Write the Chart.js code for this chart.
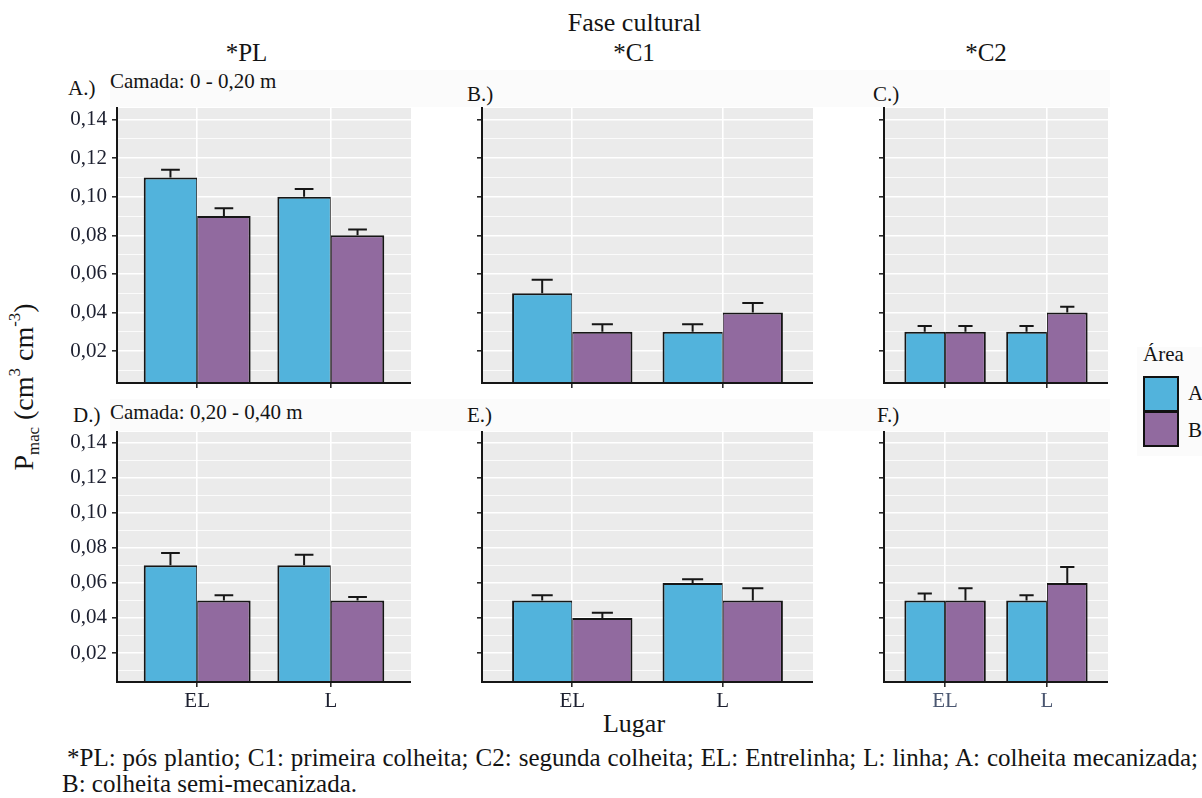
<!DOCTYPE html>
<html lang="pt">
<head>
<meta charset="utf-8">
<title>Pmac por fase cultural</title>
<script src="https://cdn.jsdelivr.net/npm/chart.js@4.4.1/dist/chart.umd.min.js"></script>
<style>
  html, body { margin: 0; padding: 0; }
  body {
    width: 1202px; height: 798px; position: relative; overflow: hidden;
    background: #ffffff; color: #141414;
    font-family: "Liberation Serif", "Times New Roman", serif;
  }
  .t { position: absolute; white-space: nowrap; line-height: 1; }
  canvas { position: absolute; }
  .strip { position: absolute; background: #fbfbfb; }
  .key { position: absolute; box-sizing: border-box; border: 2px solid #111; }
  #ylab sub { font-size: 0.6em; vertical-align: -0.35em; line-height: 0; }
  #ylab sup { font-size: 0.6em; vertical-align: 0.75em; line-height: 0; }
  #nota {
    position: absolute; left: 62px; top: 745px; width: 1136px;
    font-size: 25px; line-height: 26px; text-align: justify; text-indent: 5px;
  }
</style>
</head>
<body>

<div class="strip" style="left:110px;top:70px;width:1000px;height:37px;"></div>
<div class="strip" style="left:110px;top:399px;width:1000px;height:32px;"></div>
<div class="strip" style="left:1137px;top:347px;width:65px;height:109px;"></div>

<div class="t" style="left:634.5px;top:10px;font-size:26px;transform:translateX(-50%);">Fase cultural</div>
<div class="t" style="left:246.5px;top:40px;font-size:25px;transform:translateX(-50%);">*PL</div>
<div class="t" style="left:634px;top:40px;font-size:25px;transform:translateX(-50%);">*C1</div>
<div class="t" style="left:986px;top:40px;font-size:25px;transform:translateX(-50%);">*C2</div>

<div class="t" style="left:68px;top:78px;font-size:21px;">A.)</div>
<div class="t" style="left:110px;top:71px;font-size:21px;">Camada: 0 - 0,20 m</div>
<div class="t" style="left:467px;top:84px;font-size:21px;">B.)</div>
<div class="t" style="left:873px;top:84px;font-size:21px;">C.)</div>
<div class="t" style="left:73px;top:405px;font-size:21px;">D.)</div>
<div class="t" style="left:110px;top:402px;font-size:21px;">Camada: 0,20 - 0,40 m</div>
<div class="t" style="left:467px;top:405px;font-size:21px;">E.)</div>
<div class="t" style="left:877px;top:405px;font-size:21px;">F.)</div>

<div id="ylab" class="t" style="left:24px;top:387px;font-size:28px;transform:translate(-50%,-50%) rotate(-90deg);">P<sub>mac</sub> (cm<sup>3</sup> cm<sup>-3</sup>)</div>
<div class="t" style="left:634px;top:711px;font-size:26px;transform:translateX(-50%);">Lugar</div>

<div class="t" style="left:1143px;top:344px;font-size:21px;">Área</div>
<div id="legend"></div>

<div id="nota">*PL: pós plantio; C1: primeira colheita; C2: segunda colheita; EL: Entrelinha; L: linha; A: colheita mecanizada; B: colheita semi-mecanizada.</div>

<script>
// Categories and series
const lugares = ['EL', 'L'];
const areas = ['A', 'B'];

// Camada 0 - 0,20 m
const pl0020A = [0.110, 0.100];
const pl0020B = [0.090, 0.080];
const pl0020Aerr = [0.004, 0.004];
const pl0020Berr = [0.004, 0.003];

const c10020A = [0.050, 0.030];
const c10020B = [0.030, 0.040];
const c10020Aerr = [0.007, 0.004];
const c10020Berr = [0.004, 0.005];

const c20020A = [0.030, 0.030];
const c20020B = [0.030, 0.040];
const c20020Aerr = [0.003, 0.003];
const c20020Berr = [0.003, 0.003];

// Camada 0,20 - 0,40 m
const pl2040A = [0.070, 0.070];
const pl2040B = [0.050, 0.050];
const pl2040Aerr = [0.007, 0.006];
const pl2040Berr = [0.003, 0.002];

const c12040A = [0.050, 0.060];
const c12040B = [0.040, 0.050];
const c12040Aerr = [0.003, 0.002];
const c12040Berr = [0.003, 0.007];

const c22040A = [0.050, 0.050];
const c22040B = [0.050, 0.060];
const c22040Aerr = [0.004, 0.003];
const c22040Berr = [0.007, 0.009];

// Y axis ticks (labelled majors, unlabelled minors)
const yMajorTicks = [0.02, 0.04, 0.06, 0.08, 0.10, 0.12, 0.14];
const yMinorTicks = [0.01, 0.03, 0.05, 0.07, 0.09, 0.11, 0.13];
const yMin = 0.0035;
const yMax = 0.146;

// Styling
const COLOR_A = '#52B3DC';
const COLOR_B = '#916A9F';
const PANEL_BG = '#EBEBEB';
const INK = '#161616';
const TICK_TEXT = '#1d2030';
const FONT = '"Liberation Serif", "Times New Roman", serif';

// Grid of facets: column edges (axis line / right edge) and row edges
const colAxisX = [117, 482, 884];
const colRight = [411, 813, 1108];
const rowTop = [108, 432];
const rowBottom = [383, 682];
const yAxisW = [60, 12, 12];
const xAxisH = [8, 36];
const PAD_TOP = 14;

const panels = [
  { row: 0, col: 0, a: pl0020A, b: pl0020B, ea: pl0020Aerr, eb: pl0020Berr },
  { row: 0, col: 1, a: c10020A, b: c10020B, ea: c10020Aerr, eb: c10020Berr },
  { row: 0, col: 2, a: c20020A, b: c20020B, ea: c20020Aerr, eb: c20020Berr },
  { row: 1, col: 0, a: pl2040A, b: pl2040B, ea: pl2040Aerr, eb: pl2040Berr },
  { row: 1, col: 1, a: c12040A, b: c12040B, ea: c12040Aerr, eb: c12040Berr },
  { row: 1, col: 2, a: c22040A, b: c22040B, ea: c22040Aerr, eb: c22040Berr }
];

const isMajor = (v) => yMajorTicks.some((m) => Math.abs(m - v) < 1e-9);
const fmt = (v) => v.toFixed(2).replace('.', ',');

// Grey panel background behind the grid
const panelBg = {
  id: 'panelBg',
  beforeDraw(chart) {
    const { ctx, chartArea: a } = chart;
    ctx.save();
    ctx.fillStyle = PANEL_BG;
    ctx.fillRect(a.left, a.top, a.right - a.left, a.bottom - a.top);
    ctx.restore();
  }
};

// Upper error bars (mean + error) on every bar
const errorBars = {
  id: 'errorBars',
  afterDatasetsDraw(chart) {
    const { ctx } = chart;
    const yScale = chart.scales.y;
    ctx.save();
    ctx.strokeStyle = INK;
    ctx.lineWidth = 2;
    chart.data.datasets.forEach((ds, di) => {
      const meta = chart.getDatasetMeta(di);
      meta.data.forEach((bar, i) => {
        const top = yScale.getPixelForValue(ds.data[i].y + ds.errors[i]);
        const half = bar.width * 0.175;
        ctx.beginPath();
        ctx.moveTo(bar.x, bar.y);
        ctx.lineTo(bar.x, top);
        ctx.moveTo(bar.x - half, top);
        ctx.lineTo(bar.x + half, top);
        ctx.stroke();
      });
    });
    ctx.restore();
  }
};

function makePanel(p) {
  const left = colAxisX[p.col] - yAxisW[p.col];
  const width = colRight[p.col] - left;
  const top = rowTop[p.row] - PAD_TOP;
  const height = rowBottom[p.row] - rowTop[p.row] + PAD_TOP + xAxisH[p.row];

  const canvas = document.createElement('canvas');
  canvas.width = width;
  canvas.height = height;
  canvas.style.left = left + 'px';
  canvas.style.top = top + 'px';
  canvas.style.width = width + 'px';
  canvas.style.height = height + 'px';
  document.body.appendChild(canvas);

  const showY = p.col === 0;
  const showX = p.row === 1;
  const xColor = p.col === 2 ? '#4a5670' : TICK_TEXT;

  new Chart(canvas, {
    type: 'bar',
    data: {
      datasets: [
        {
          label: areas[0],
          data: p.a.map((v, i) => ({ x: i + 1, y: v })),
          errors: p.ea,
          backgroundColor: COLOR_A,
          borderColor: INK,
          borderWidth: { top: 2, left: 2, right: 1, bottom: 0 }
        },
        {
          label: areas[1],
          data: p.b.map((v, i) => ({ x: i + 1, y: v })),
          errors: p.eb,
          backgroundColor: COLOR_B,
          borderColor: INK,
          borderWidth: { top: 2, left: 1, right: 2, bottom: 0 }
        }
      ]
    },
    options: {
      responsive: false,
      animation: false,
      events: [],
      devicePixelRatio: 1,
      layout: { padding: { top: PAD_TOP, right: 0, bottom: 0, left: 0 } },
      plugins: { legend: { display: false }, tooltip: { enabled: false } },
      datasets: { bar: { categoryPercentage: 0.8, barPercentage: 1.0 } },
      scales: {
        x: {
          type: 'linear',
          min: 0.4,
          max: 2.6,
          offset: false,
          grid: {
            offset: false,
            color: '#ffffff',
            lineWidth: 1.6,
            drawTicks: true,
            tickLength: 5,
            tickColor: '#2a2a2a',
            tickWidth: 1.6
          },
          border: { display: true, color: INK, width: 2, z: 1 },
          ticks: {
            autoSkip: false,
            maxRotation: 0,
            padding: 2,
            color: xColor,
            font: { family: FONT, size: 21 },
            callback: (v) => (showX ? lugares[Math.round(v) - 1] : '')
          },
          afterBuildTicks: (s) => { s.ticks = lugares.map((_, i) => ({ value: i + 1 })); },
          afterFit: (s) => { s.height = xAxisH[p.row]; s.paddingLeft = 0; s.paddingRight = 0; }
        },
        y: {
          type: 'linear',
          min: yMin,
          max: yMax,
          grid: {
            color: '#ffffff',
            lineWidth: (c) => (c.tick && isMajor(c.tick.value) ? 1.6 : 0.8),
            drawTicks: true,
            tickLength: 5,
            tickColor: (c) => (c.tick && isMajor(c.tick.value) ? '#2a2a2a' : 'rgba(0,0,0,0)'),
            tickWidth: 1.6
          },
          border: { display: true, color: INK, width: 2, z: 1 },
          ticks: {
            autoSkip: false,
            padding: 5,
            color: TICK_TEXT,
            font: { family: FONT, size: 21 },
            callback: (v) => (showY && isMajor(v) ? fmt(v) : '')
          },
          afterBuildTicks: (s) => {
            s.ticks = yMinorTicks.concat(yMajorTicks)
              .sort((m, n) => m - n)
              .map((v) => ({ value: v }));
          },
          afterFit: (s) => { s.width = yAxisW[p.col]; s.paddingTop = 0; s.paddingBottom = 0; }
        }
      }
    },
    plugins: [panelBg, errorBars]
  });
}

panels.forEach(makePanel);

// Legend keys for Área
const legend = document.getElementById('legend');
[COLOR_A, COLOR_B].forEach((c, i) => {
  const box = document.createElement('div');
  box.className = 'key';
  box.style.left = '1143px';
  box.style.top = (376 + i * 35) + 'px';
  box.style.width = '36px';
  box.style.height = '36px';
  box.style.background = c;
  legend.appendChild(box);
  const lab = document.createElement('div');
  lab.className = 't';
  lab.style.left = '1188px';
  lab.style.top = (383 + i * 36.5) + 'px';
  lab.style.fontSize = '21px';
  lab.textContent = areas[i];
  legend.appendChild(lab);
});
</script>
</body>
</html>
